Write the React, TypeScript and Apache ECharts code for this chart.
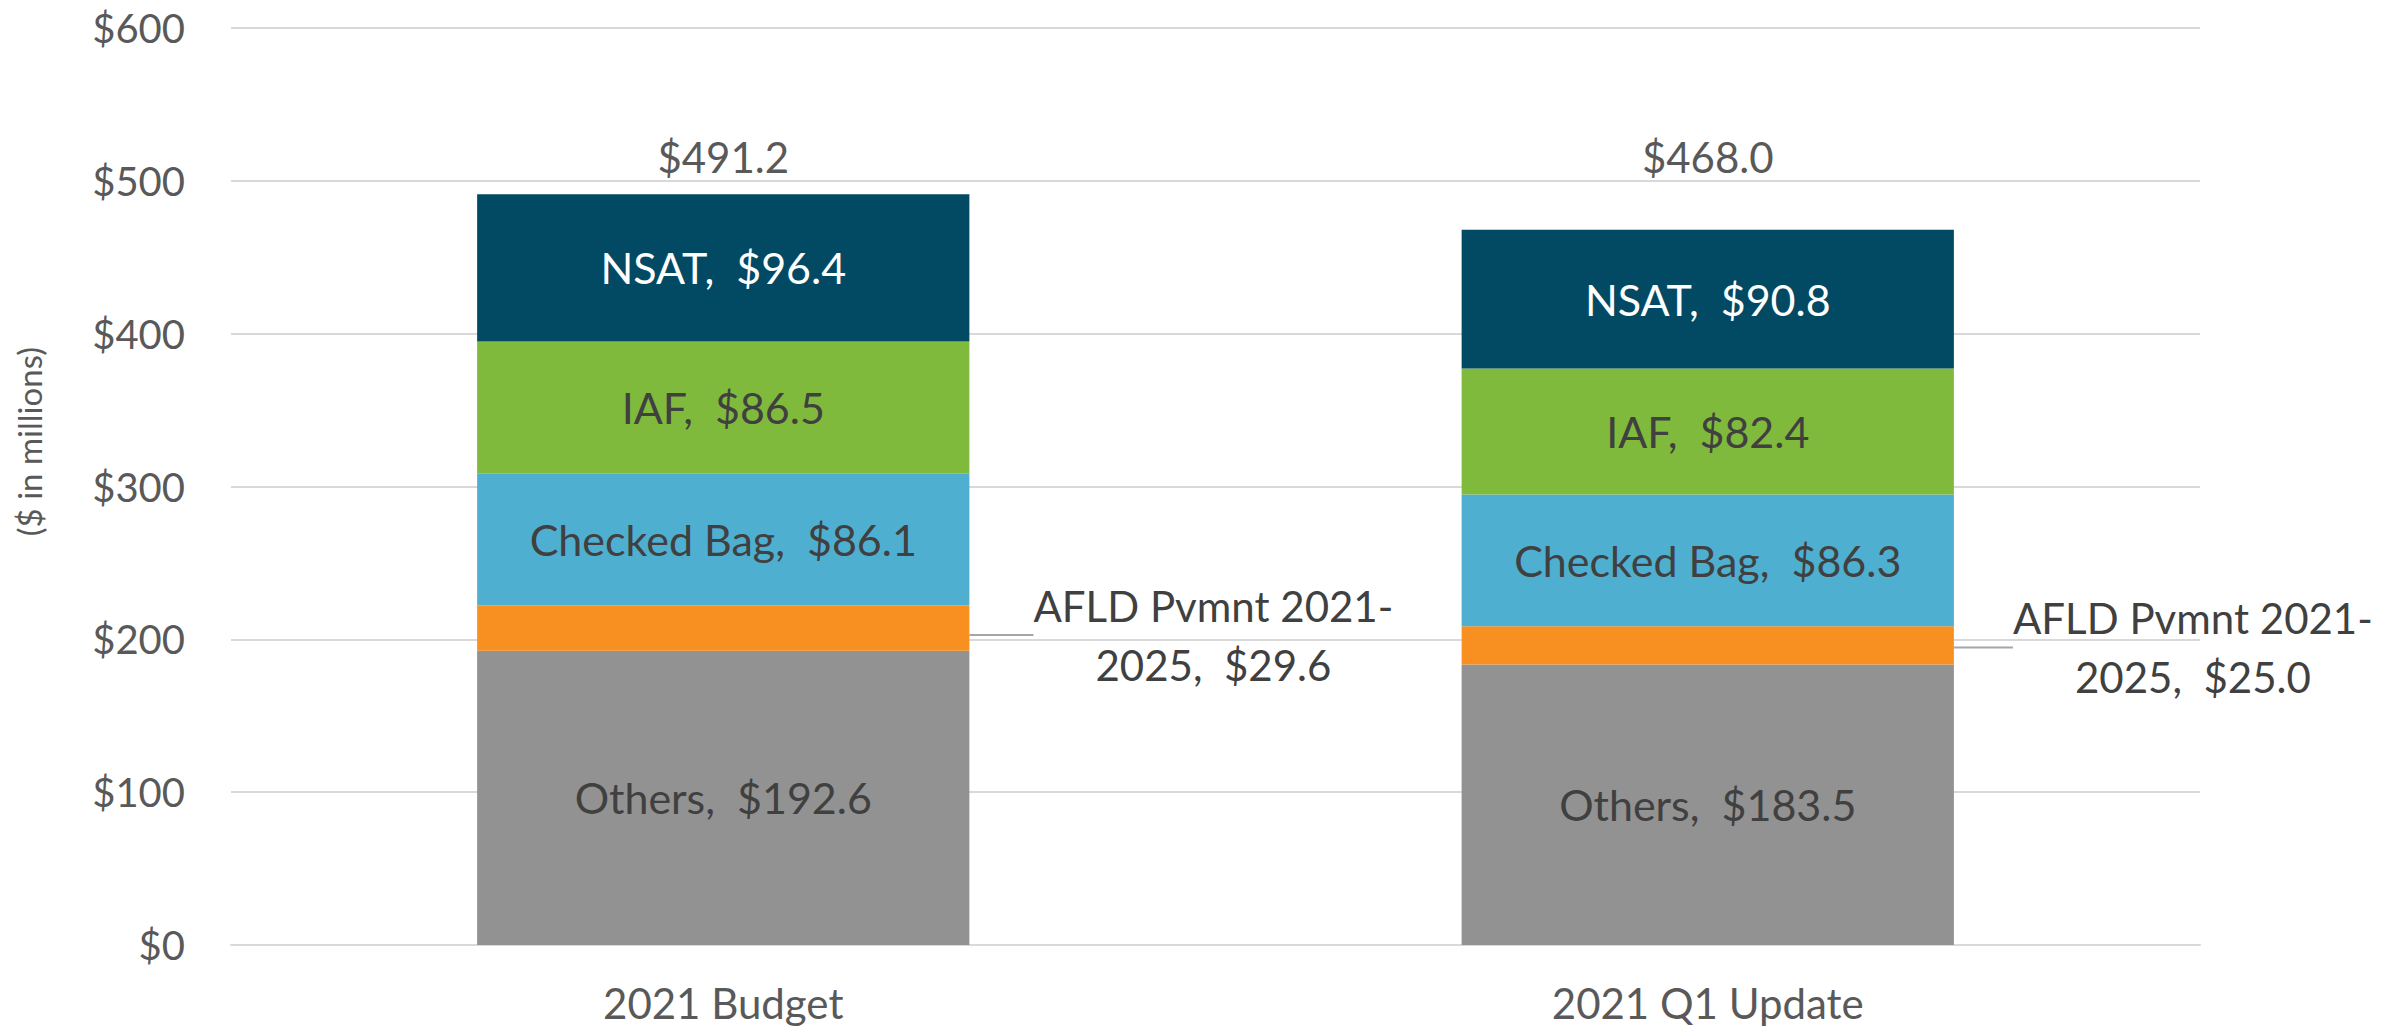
import React, { useEffect, useRef } from "react";
import * as echarts from "echarts";

const categories = ["2021 Budget", "2021 Q1 Update"];
const others = [192.6, 183.5];
const afld = [29.6, 25.0];
const checkedBag = [86.1, 86.3];
const iaf = [86.5, 82.4];
const nsat = [96.4, 90.8];
const totals = [491.2, 468.0];
const yTicks = [0, 100, 200, 300, 400, 500, 600];

const FONT = "Lato";
const afldLabelDistance = [244, 239];
const afldLabelDy = [7, 2];

export default function App() {
  const ref = useRef<HTMLDivElement>(null);
  useEffect(() => {
    if (!ref.current) return;
    const chart = echarts.init(ref.current, null, { renderer: "svg" });
    const insideLabel = (name: string, color: string) => ({
      show: true,
      position: "inside",
      fontFamily: FONT,
      fontSize: 43,
      color,
      formatter: (p: any) => `${name},  $${Number(p.value).toFixed(1)}`,
    });
    const option: any = {
      animation: false,
      backgroundColor: "#ffffff",
      grid: { left: 231, right: 202, top: 28, bottom: 86, containLabel: false },
      xAxis: {
        type: "category",
        data: categories,
        axisLine: { show: true, lineStyle: { color: "#d9d9d9", width: 2 } },
        axisTick: { show: false },
        axisLabel: { fontFamily: FONT, fontSize: 42, color: "#595959", margin: 37 },
      },
      yAxis: {
        type: "value",
        min: yTicks[0],
        max: yTicks[yTicks.length - 1],
        interval: 100,
        axisLine: { show: false },
        axisTick: { show: false },
        splitLine: { lineStyle: { color: "#d9d9d9", width: 2 } },
        axisLabel: {
          fontFamily: FONT,
          fontSize: 40,
          color: "#595959",
          margin: 46,
          formatter: (v: number) => `$${v}`,
        },
      },
      graphic: [
        {
          type: "text",
          left: 12,
          top: 347,
          rotation: Math.PI / 2,
          style: {
            text: "($ in millions)",
            fontFamily: FONT,
            fontSize: 33,
            fill: "#595959",
          },
        },
      ],
      series: [
        {
          name: "Others",
          type: "bar",
          stack: "s",
          barWidth: "50%",
          data: others,
          itemStyle: { color: "#929292" },
          label: insideLabel("Others", "#404040"),
        },
        {
          name: "AFLD Pvmnt 2021-2025",
          type: "bar",
          stack: "s",
          data: afld.map((v, i) => ({
            value: v,
            label: { distance: afldLabelDistance[i], offset: [0, afldLabelDy[i]] },
          })),
          itemStyle: { color: "#f79021" },
          label: {
            show: true,
            position: "right",
            align: "center",
            verticalAlign: "middle",
            fontFamily: FONT,
            fontSize: 42,
            lineHeight: 59,
            color: "#404040",
            formatter: (p: any) => `AFLD Pvmnt 2021-\n2025,  $${Number(p.value).toFixed(1)}`,
          },
          labelLine: { show: true, lineStyle: { color: "#a6a6a6", width: 2 } },
        },
        {
          name: "Checked Bag",
          type: "bar",
          stack: "s",
          data: checkedBag,
          itemStyle: { color: "#4fafd0" },
          label: insideLabel("Checked Bag", "#404040"),
        },
        {
          name: "IAF",
          type: "bar",
          stack: "s",
          data: iaf,
          itemStyle: { color: "#7fba3d" },
          label: insideLabel("IAF", "#404040"),
        },
        {
          name: "NSAT",
          type: "bar",
          stack: "s",
          data: nsat,
          itemStyle: { color: "#024a64" },
          label: insideLabel("NSAT", "#ffffff"),
        },
        {
          name: "Total",
          type: "bar",
          stack: "s",
          data: totals.map(() => 0),
          itemStyle: { color: "transparent" },
          label: {
            show: true,
            position: "top",
            distance: 18,
            fontFamily: FONT,
            fontSize: 42,
            color: "#595959",
            formatter: (p: any) => `$${totals[p.dataIndex].toFixed(1)}`,
          },
          labelLayout: { y: 157, verticalAlign: "middle", align: "center" },
        },
      ],
    };
    chart.setOption(option);
    return () => chart.dispose();
  }, []);
  return (
    <div
      ref={ref}
      style={{ position: "fixed", left: 0, top: 0, width: 2402, height: 1031 }}
    />
  );
}
